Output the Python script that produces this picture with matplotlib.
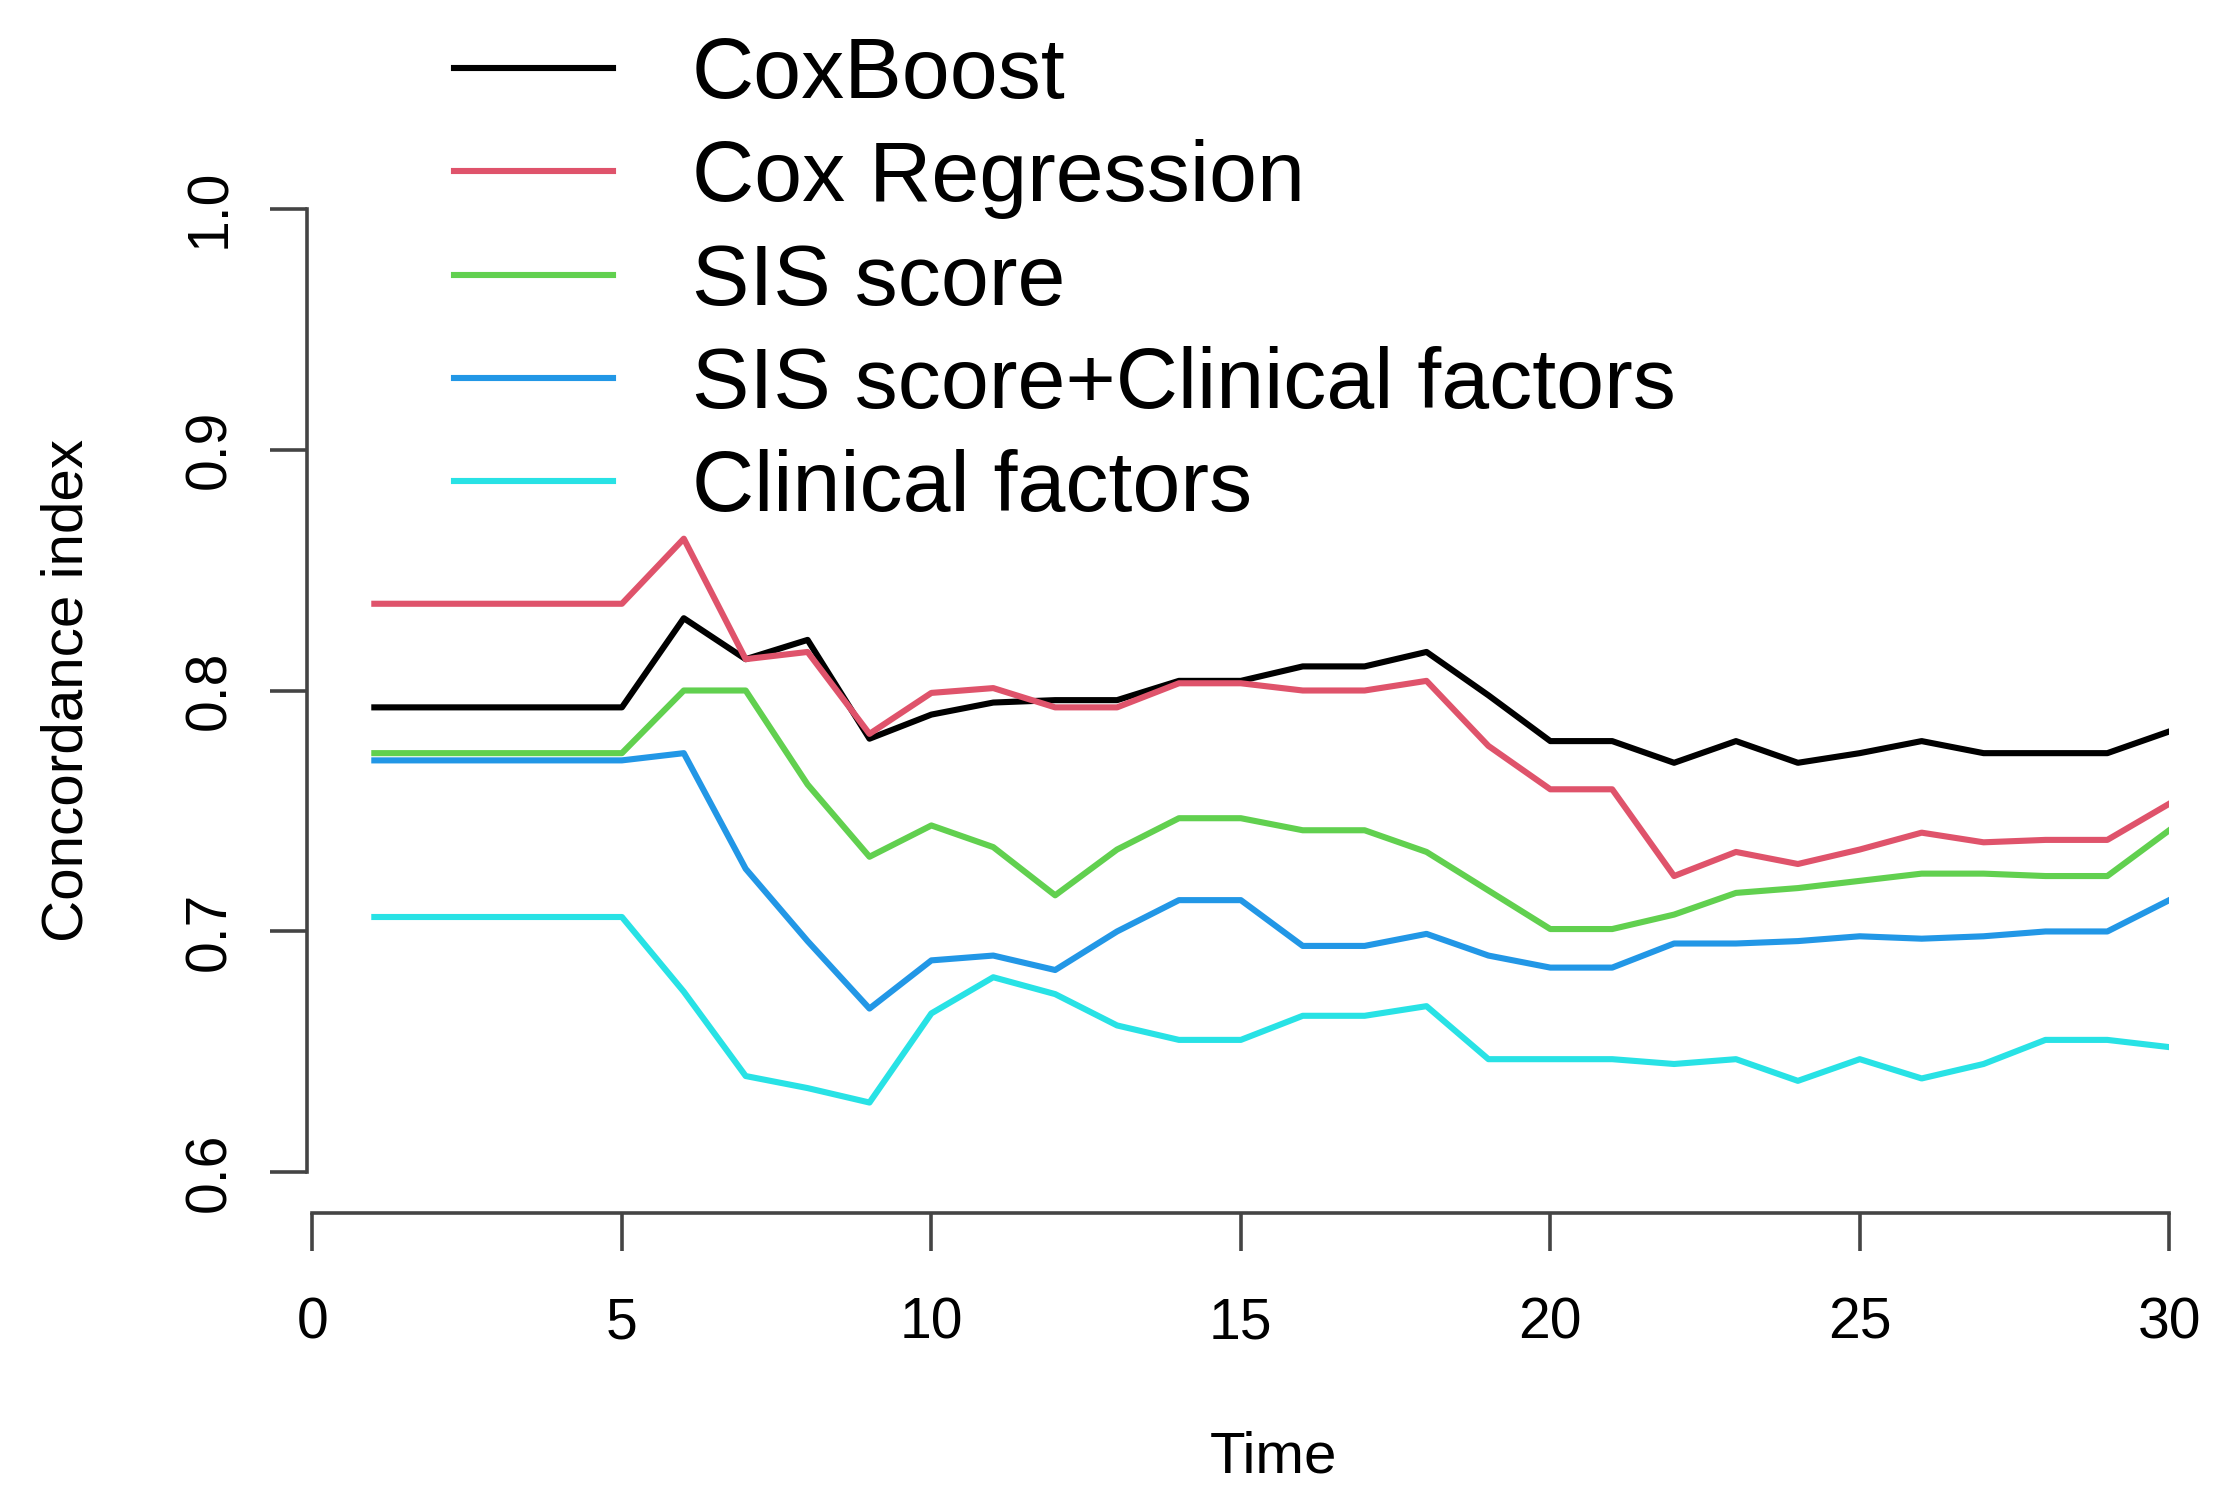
import matplotlib
matplotlib.use('Agg')
import matplotlib.pyplot as plt

plt.rcParams['font.family'] = ['Liberation Sans', 'DejaVu Sans']

time = list(range(1, 31))

coxboost = [0.793, 0.793, 0.793, 0.793, 0.793, 0.830, 0.813, 0.821, 0.780, 0.790,
            0.795, 0.796, 0.796, 0.804, 0.804, 0.810, 0.810, 0.816, 0.798, 0.779,
            0.779, 0.770, 0.779, 0.770, 0.774, 0.779, 0.774, 0.774, 0.774, 0.783]
cox_regression = [0.836, 0.836, 0.836, 0.836, 0.836, 0.863, 0.813, 0.816, 0.782, 0.799,
                  0.801, 0.793, 0.793, 0.803, 0.803, 0.800, 0.800, 0.804, 0.777, 0.759,
                  0.759, 0.723, 0.733, 0.728, 0.734, 0.741, 0.737, 0.738, 0.738, 0.753]
sis_score = [0.774, 0.774, 0.774, 0.774, 0.774, 0.800, 0.800, 0.761, 0.731, 0.744,
             0.735, 0.715, 0.734, 0.747, 0.747, 0.742, 0.742, 0.733, 0.717, 0.701,
             0.701, 0.707, 0.716, 0.718, 0.721, 0.724, 0.724, 0.723, 0.723, 0.742]
sis_clinical = [0.771, 0.771, 0.771, 0.771, 0.771, 0.774, 0.726, 0.696, 0.668, 0.688,
                0.690, 0.684, 0.700, 0.713, 0.713, 0.694, 0.694, 0.699, 0.690, 0.685,
                0.685, 0.695, 0.695, 0.696, 0.698, 0.697, 0.698, 0.700, 0.700, 0.713]
clinical = [0.706, 0.706, 0.706, 0.706, 0.706, 0.675, 0.640, 0.635, 0.629, 0.666,
            0.681, 0.674, 0.661, 0.655, 0.655, 0.665, 0.665, 0.669, 0.647, 0.647,
            0.647, 0.645, 0.647, 0.638, 0.647, 0.639, 0.645, 0.655, 0.655, 0.652]

labels = ['CoxBoost', 'Cox Regression', 'SIS score',
          'SIS score+Clinical factors', 'Clinical factors']
colors = ['#000000', '#DF536B', '#61D04F', '#2297E6', '#28E2E5']
series = [coxboost, cox_regression, sis_score, sis_clinical, clinical]

x_ticks = [0, 5, 10, 15, 20, 25, 30]
y_ticks = [0.6, 0.7, 0.8, 0.9, 1.0]
y_tick_labels = ['0.6', '0.7', '0.8', '0.9', '1.0']

fig = plt.figure(figsize=(22.26, 15.06), dpi=100)
ax = fig.add_axes([0.1378, 0.2215, 0.8367, 0.64])

lines = []
for values, color, label in zip(series, colors, labels):
    line, = ax.plot(time, values, color=color, lw=4.4, label=label)
    lines.append(line)

ax.set_xlim(-0.092, 30)
ax.set_ylim(0.6, 1.0)

axis_color = '#444444'
for side in ['top', 'right']:
    ax.spines[side].set_visible(False)
ax.spines['bottom'].set_position(('outward', 29.5))
ax.spines['bottom'].set_bounds(0, 30)
ax.spines['left'].set_bounds(0.6, 1.0)
for side in ['bottom', 'left']:
    ax.spines[side].set_color(axis_color)
    ax.spines[side].set_linewidth(2.6)

ax.set_xticks(x_ticks)
ax.set_xticklabels([str(t) for t in x_ticks])
ax.set_yticks(y_ticks)
ax.set_yticklabels(y_tick_labels, rotation=90, va='center')
ax.tick_params(axis='both', length=27, width=2.6, color=axis_color, labelsize=41)
ax.tick_params(axis='x', pad=33)
ax.tick_params(axis='y', pad=23)

ax.set_xlabel('Time', fontsize=42, labelpad=62)
ax.xaxis.set_label_coords(0.519, -0.268)
ax.set_ylabel('Concordance index', fontsize=42, labelpad=64)

fig.legend(handles=lines, labels=labels, loc='upper left',
           bbox_to_anchor=(0.204, 0.976), frameon=False, fontsize=62,
           handlelength=1.84, handletextpad=0.92, labelspacing=0.27,
           borderpad=0, borderaxespad=0)

fig.savefig('out.png', dpi=100)
